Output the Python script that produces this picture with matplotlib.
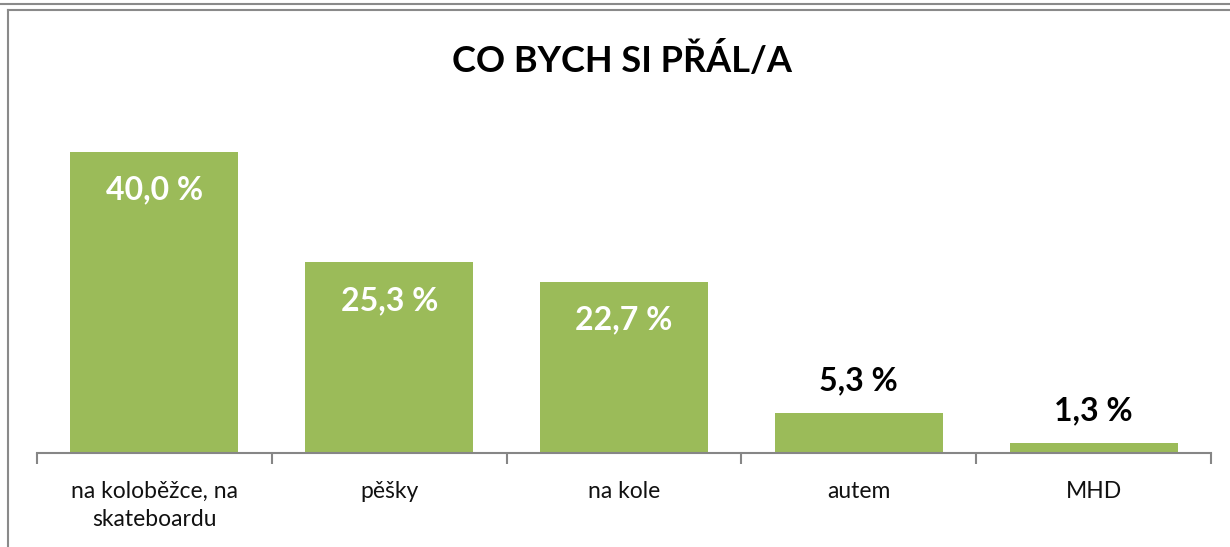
import matplotlib.pyplot as plt
from matplotlib.lines import Line2D
import numpy as np

categories = ["na koloběžce, na\nskateboardu", "pěšky", "na kole", "autem", "MHD"]
values = [40.0, 25.3, 22.7, 5.3, 1.3]
labels = ["40,0 %", "25,3 %", "22,7 %", "5,3 %", "1,3 %"]
inside = [True, True, True, False, False]

plt.rcParams['font.family'] = ['Lato', 'DejaVu Sans']

W, H = 1230, 547
fig = plt.figure(figsize=(W / 100, H / 100), dpi=100)

# axis area in pixels
x0, x1 = 37, 1211
y_base, y_top = 453, 110
ax = fig.add_axes([x0 / W, (H - y_base) / H, (x1 - x0) / W, (y_base - y_top) / H])

ind = np.arange(len(categories))
green = '#9bbb59'
ax.bar(ind, values, 0.715, color=green)
ax.set_xlim(-0.5, len(categories) - 0.5)
ax.set_ylim(0, (y_base - y_top) / 7.53)

for s in ['top', 'right', 'left']:
    ax.spines[s].set_visible(False)
ax.spines['bottom'].set_color('#868686')
ax.spines['bottom'].set_linewidth(1.5)
ax.set_yticks([])
ax.set_xticks(np.arange(-0.5, len(categories), 1.0))
ax.set_xticklabels([])
ax.tick_params(axis='x', length=8, width=1.5, color='#868686')
ax.set_xticks(ind, minor=True)
ax.set_xticklabels(categories, minor=True, fontsize=16.5, color='#111111', linespacing=1.45)
ax.tick_params(axis='x', which='minor', length=0, pad=20)

for i, (v, lab, ins) in enumerate(zip(values, labels, inside)):
    if ins:
        ax.annotate(lab, (i, v), xytext=(0, -38), textcoords='offset pixels',
                    ha='center', va='center', fontsize=23, fontweight='bold', color='white')
    else:
        ax.annotate(lab, (i, v), xytext=(0, 32), textcoords='offset pixels',
                    ha='center', va='center', fontsize=23, fontweight='bold', color='black')

fig.text(622 / W, 1 - 60 / H, "CO BYCH SI PŘÁL/A", ha='center', va='center',
         fontsize=26, fontweight='bold', color='black')

# frame lines of the chart area
fig.add_artist(Line2D([0, 1], [1 - 3.5 / H, 1 - 3.5 / H], color='#8a8a8a', lw=1.5))
fig.add_artist(Line2D([8 / W, 1], [1 - 9.5 / H, 1 - 9.5 / H], color='#8a8a8a', lw=1.5))
fig.add_artist(Line2D([8 / W, 8 / W], [1 - 9.5 / H, 0], color='#8a8a8a', lw=1.5))

fig.savefig('out.png', dpi=100)
